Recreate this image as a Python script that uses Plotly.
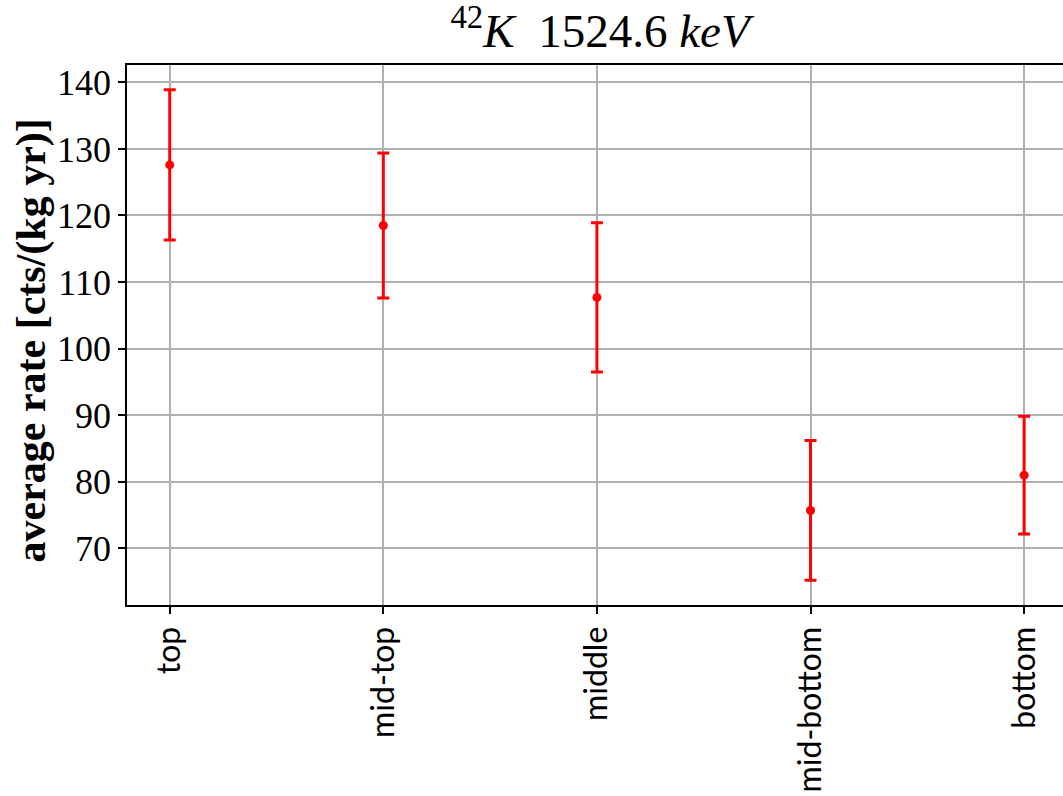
import plotly.graph_objects as go

categories = ["top", "mid-top", "middle", "mid-bottom", "bottom"]
rates = [127.6, 118.5, 107.7, 75.7, 81.0]
errors = [11.3, 10.9, 11.2, 10.5, 8.85]
y_ticks = [70, 80, 90, 100, 110, 120, 130, 140]

fig = go.Figure()
fig.add_trace(go.Scatter(
    x=list(range(len(categories))), y=rates,
    mode="markers",
    marker=dict(color="red", size=9),
    error_y=dict(type="data", array=errors, visible=True, color="red", thickness=3, width=6),
    showlegend=False,
))

serif = "Liberation Serif, DejaVu Serif, serif"
W, H = 1063, 796
fig.update_layout(
    width=W, height=H,
    margin=dict(l=127, r=0, t=65, b=191),
    paper_bgcolor="white", plot_bgcolor="white",
    title=dict(
        text="<sup>42</sup><i>K</i>  1524.6 <i>keV</i>",
        x=600 / W, xanchor="center", y=0.982, yanchor="top",
        font=dict(family=serif, size=47, color="black"),
    ),
    xaxis=dict(
        range=[-0.2, 4.182],
        tickmode="array", tickvals=list(range(len(categories))), ticktext=categories,
        tickangle=-90,
        tickfont=dict(family="Lato, DejaVu Sans, sans-serif", size=32, color="black"),
        showgrid=True, gridcolor="#b0b0b0", gridwidth=1.5,
        showline=True, linecolor="black", linewidth=1.8, mirror=True,
        ticks="outside", ticklen=7, tickwidth=1.5, tickcolor="black",
        zeroline=False,
    ),
    yaxis=dict(
        range=[61.5, 142.6],
        tickmode="array", tickvals=y_ticks, ticktext=[str(v) for v in y_ticks],
        tickfont=dict(family=serif, size=36, color="black"),
        showgrid=True, gridcolor="#b0b0b0", gridwidth=1.5,
        showline=True, linecolor="black", linewidth=1.8, mirror=False,
        ticks="outside", ticklen=7, tickwidth=1.5, tickcolor="black",
        zeroline=False,
    ),
    annotations=[dict(
        text="<b>average rate [cts/(kg yr)]</b>",
        xref="paper", yref="paper", x=-0.1025, y=0.49,
        xanchor="center", yanchor="middle", textangle=-90, showarrow=False,
        font=dict(family=serif, size=42, color="black"),
    )],
)

fig.write_html(
    "out.html",
    config={"displayModeBar": False},
    post_script="document.body.style.margin='0px';document.body.style.overflow='hidden';",
)
